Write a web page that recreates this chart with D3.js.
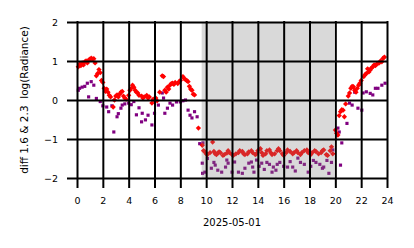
<!DOCTYPE html>
<html>
<head>
<meta charset="utf-8">
<script src="https://d3js.org/d3.v7.min.js"></script>
<style>
  body { margin: 0; background: #fff; }
  svg text { font-family: "DejaVu Sans", sans-serif; fill: #000; }
</style>
</head>
<body>
<svg id="vis" width="414" height="248"></svg>
<script>
// hour of day, diff value (red diamonds)
var redHours = [0.1,0.2,0.3,0.4,0.5,0.6,0.7,0.8,0.9,1.0,1.1,1.2,1.3,1.4,1.5,1.6,1.7,1.8,1.9,2.0,2.1,2.2,2.3,2.4,2.5,2.6,2.8,2.9,3.0,3.1,3.2,3.3,3.4,3.5,3.6,3.7,3.8,4.0,4.1,4.2,4.3,4.4,4.5,4.6,4.7,4.8,5.0,5.1,5.2,5.4,5.5,5.6,5.8,5.9,6.0,6.1,6.2,6.4,6.6,6.7,6.8,6.9,7.0,7.1,7.2,7.3,7.4,7.5,7.6,7.8,7.9,8.0,8.2,8.3,8.4,8.5,8.6,8.7,8.8,8.9,9.0,9.1,9.4,
  9.7,9.8,9.9,10.0,10.1,10.3,10.5,10.6,10.7,10.8,10.9,11.0,11.1,11.3,11.4,11.6,11.7,11.8,12.0,12.1,12.3,12.5,12.6,12.8,12.9,13.0,13.2,13.3,13.5,13.6,13.8,13.9,14.0,14.2,14.3,14.4,14.6,14.7,14.9,15.0,15.1,15.3,15.5,15.6,15.7,15.9,16.0,16.2,16.3,16.5,16.7,16.8,17.0,17.1,17.3,17.4,17.6,17.8,17.9,18.1,18.2,18.4,18.5,18.7,18.9,19.0,19.1,19.3,19.4,19.6,19.7,19.8,
  20.0,20.1,20.2,20.3,20.4,20.5,20.6,20.7,20.8,21.0,21.1,21.2,21.3,21.4,21.5,21.6,21.7,21.8,21.9,22.0,22.2,22.3,22.4,22.5,22.6,22.7,22.8,22.9,23.0,23.1,23.2,23.3,23.4,23.5,23.6,23.7,23.8];
var redValues = [0.85,0.92,0.88,0.95,0.9,0.98,1.0,0.95,1.02,1.05,1.07,1.05,1.06,0.95,0.62,0.68,0.78,0.7,0.5,0.45,0.3,0.22,0.28,0.2,0.12,0.08,-0.18,0.0,0.1,0.13,0.08,0.15,0.2,0.22,0.1,0.05,0.02,0.12,0.25,0.3,0.38,0.33,0.25,0.2,0.18,0.12,0.1,0.05,0.08,0.12,0.05,0.08,-0.08,0.02,0.0,0.05,-0.02,0.2,0.62,0.6,0.25,0.2,0.33,0.28,0.38,0.42,0.43,0.4,0.45,0.42,0.47,0.5,0.6,0.55,0.52,0.5,0.47,0.35,0.28,0.25,0.15,0.13,-0.72,
  -1.16,-1.3,-1.33,-1.38,-1.4,-1.35,-1.08,-1.32,-1.38,-1.4,-1.36,-1.33,-1.35,-1.42,-1.4,-1.36,-1.3,-1.35,-1.4,-1.42,-1.38,-1.35,-1.3,-1.32,-1.38,-1.4,-1.38,-1.33,-1.3,-1.35,-1.4,-1.38,-1.3,-1.25,-1.35,-1.42,-1.38,-1.3,-1.28,-1.35,-1.4,-1.38,-1.3,-1.25,-1.3,-1.38,-1.42,-1.35,-1.28,-1.32,-1.38,-1.35,-1.3,-1.35,-1.4,-1.35,-1.3,-1.28,-1.35,-1.4,-1.35,-1.3,-1.32,-1.38,-1.35,-1.3,-1.28,-1.4,-1.42,-1.3,-1.2,-1.38,
  -0.77,-0.85,-0.9,-0.4,-0.3,-0.25,-0.26,-0.43,-0.1,0.1,0.18,0.3,0.35,0.34,0.25,0.2,0.3,0.38,0.43,0.5,0.6,0.65,0.68,0.8,0.72,0.77,0.82,0.85,0.9,0.88,0.92,0.94,0.95,1.0,0.98,1.07,1.1];

// purple squares
var purpleHours = [0.1,0.2,0.4,0.6,0.8,0.9,1.1,1.3,1.5,1.8,2.0,2.3,2.45,2.7,2.85,3.1,3.2,3.4,3.5,3.7,4.0,4.2,4.4,4.6,4.8,5.0,5.05,5.3,5.5,5.8,6.0,6.3,6.6,6.7,6.8,7.0,7.2,7.4,7.7,8.0,8.2,8.4,8.6,8.75,8.9,9.1,9.3,9.5,
  9.7,9.72,9.75,9.9,10.1,10.4,10.6,10.7,10.9,11.2,11.5,11.6,11.7,12.0,12.2,12.5,12.8,13.0,13.3,13.5,13.6,13.7,13.9,14.1,14.3,14.5,14.7,14.9,15.1,15.2,15.4,15.5,15.7,16.0,16.3,16.5,16.7,16.9,17.1,17.3,17.6,17.9,18.1,18.3,18.5,18.8,19.0,19.1,19.35,19.5,19.7,19.8,
  20.1,20.2,20.3,20.4,20.5,20.9,21.1,21.3,21.5,21.75,22.05,22.15,22.4,22.7,22.9,23.1,23.3,23.6,23.85];
var purpleValues = [0.25,0.3,0.33,0.35,0.43,0.08,0.47,0.38,0.04,-0.04,-0.15,-0.18,-0.3,-0.15,-0.82,-0.43,-0.35,-0.21,-0.13,-0.1,-0.08,-0.12,-0.04,-0.38,-0.2,-0.56,-0.34,-0.51,-0.39,-0.64,-0.34,-0.13,0.18,0.05,-0.34,-0.21,-0.08,-0.13,-0.05,-0.05,-0.02,0.0,-0.26,-0.39,-0.46,-0.3,-0.43,-1.12,
  -1.62,-1.88,-1.1,-1.85,-1.5,-1.75,-1.6,-1.67,-1.8,-1.85,-1.72,-1.54,-1.62,-1.85,-1.59,-1.85,-1.88,-1.75,-1.62,-1.59,-1.72,-1.85,-1.54,-1.7,-1.62,-1.78,-1.6,-1.65,-1.85,-1.72,-1.8,-1.65,-1.6,-1.7,-1.72,-1.58,-1.72,-1.82,-1.49,-1.6,-1.65,-1.85,-1.7,-1.55,-1.6,-1.65,-1.75,-1.72,-1.55,-1.88,-1.6,-1.28,
  -0.9,-0.72,-0.82,-1.67,-1.1,-0.6,-0.08,-0.13,0.2,-0.21,-0.26,0.18,0.21,0.17,0.13,0.3,0.3,0.38,0.43];

// shaded night span (hours)
var shadeSpan = [9.65, 19.9];

var xTicks = [0, 2, 4, 6, 8, 10, 12, 14, 16, 18, 20, 22, 24];
var yTicks = [-2, -1, 0, 1, 2];
var xLabel = "2025-05-01";
var yLabel = "diff 1.6 & 2.3  log(Radiance)";

var svg = d3.select("svg#vis");
var attr = { left: 77, right: 387, top: 22, bottom: 178 };

var x = d3.scaleLinear().domain([0, 24]).range([attr.left, attr.right]);
var y = d3.scaleLinear().domain([-2, 2]).range([attr.bottom, attr.top]);

var red = redHours.map((h, i) => ({ h: h, v: redValues[i] }));
var purple = purpleHours.map((h, i) => ({ h: h, v: purpleValues[i] }));

var g = {
  points: svg.append("g"),
  shade: svg.append("g"),
  grid: svg.append("g"),
  labels: svg.append("g")
};

// purple squares first, red diamonds on top
g.points.selectAll("path.purple")
  .data(purple)
  .enter()
  .append("path")
  .attr("class", "purple")
  .attr("d", d3.symbol(d3.symbolSquare, 10))
  .attr("transform", d => translate(x(d.h), y(d.v)))
  .style("fill", "#800080");

g.points.selectAll("path.red")
  .data(red)
  .enter()
  .append("path")
  .attr("class", "red")
  .attr("d", d3.symbol(d3.symbolSquare, 14))
  .attr("transform", d => translate(x(d.h), y(d.v)) + " rotate(45)")
  .style("fill", "#ff0000");

// gray span over the points
g.shade.append("rect")
  .attr("x", x(shadeSpan[0]))
  .attr("y", y(2))
  .attr("width", x(shadeSpan[1]) - x(shadeSpan[0]))
  .attr("height", y(-2) - y(2))
  .style("fill", "gray")
  .style("opacity", 0.3);

// axes: gridlines with outward ticks
var tickLen = 9;
var xAxis = g.grid.append("g")
  .attr("transform", translate(0, attr.bottom))
  .call(d3.axisBottom(x).tickValues(xTicks).tickSize(tickLen).tickPadding(10).tickFormat(d3.format("d")));
xAxis.selectAll("line").attr("y1", -(attr.bottom - attr.top)).attr("y2", tickLen);

var yAxis = g.grid.append("g")
  .attr("transform", translate(attr.left, 0))
  .call(d3.axisLeft(y).tickValues(yTicks).tickSize(tickLen).tickPadding(10).tickFormat(d => d < 0 ? "\u2212" + Math.abs(d) : d));
yAxis.selectAll("line").attr("x1", attr.right - attr.left).attr("x2", -tickLen);

g.grid.selectAll(".domain").remove();
g.grid.selectAll(".tick line")
  .style("stroke", "#000")
  .style("stroke-width", 2)
  .style("stroke-linecap", "square");
g.grid.selectAll(".tick text")
  .style("font-size", "9.5px")
  .style("font-family", "DejaVu Sans");

g.labels.append("text")
  .attr("x", (attr.left + attr.right) / 2)
  .attr("y", 226)
  .attr("text-anchor", "middle")
  .style("font-size", "10px")
  .text(xLabel);

g.labels.append("text")
  .attr("transform", translate(28, (attr.top + attr.bottom) / 2) + " rotate(-90)")
  .attr("text-anchor", "middle")
  .style("font-size", "10.5px")
  .style("white-space", "pre")
  .text(yLabel);

function translate(x, y) {
  return "translate(" + String(x) + "," + String(y) + ")";
}
</script>
</body>
</html>
